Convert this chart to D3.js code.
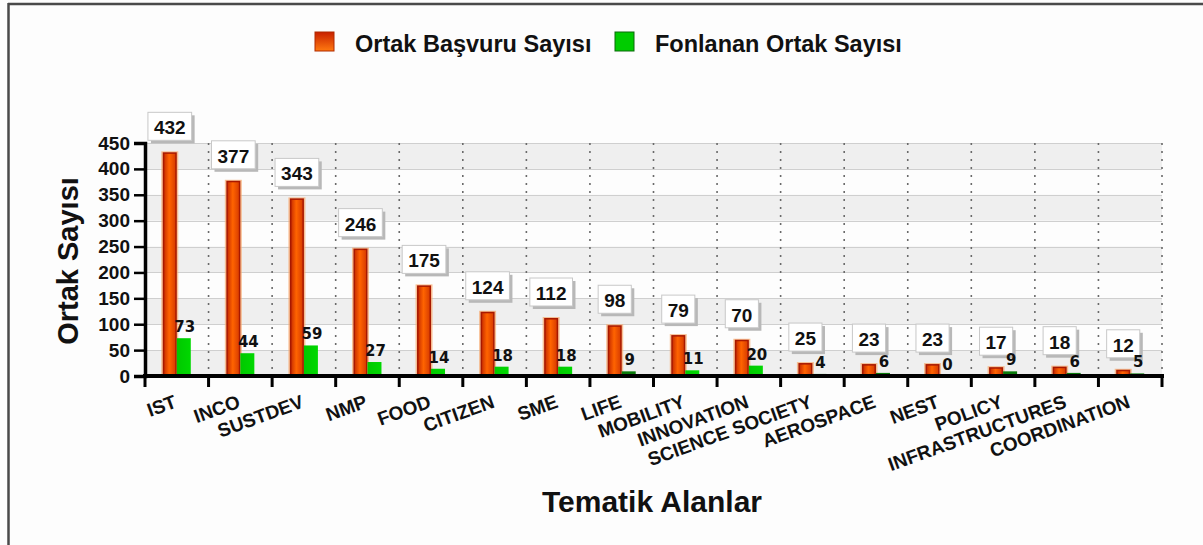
<!DOCTYPE html>
<html>
<head>
    <meta charset="utf-8">
    <title>Ortak Sayısı - Tematik Alanlar</title>
    <script src="https://d3js.org/d3.v7.min.js"></script>
    <style>
        body, html {
            margin: 0;
            padding: 0;
            background: #fdfdfd;
        }
        svg {
            display: block;
            font-family: "Liberation Sans", Arial, sans-serif;
        }
        .grid line {
            stroke: #cfcfcf;
            stroke-width: 1;
        }
        .vgrid line {
            stroke: #6a6a6a;
            stroke-width: 1.6;
            stroke-dasharray: 2 6;
        }
        .axis path, .axis line {
            stroke: #000;
        }
        .y-axis text {
            font-size: 19px;
            font-weight: bold;
            fill: #111;
        }
        .x-axis text {
            font-size: 19px;
            font-weight: bold;
            fill: #111;
        }
        .box-label {
            font-size: 19px;
            font-weight: bold;
            fill: #111;
        }
        .green-label {
            font-family: "DejaVu Sans", Verdana, sans-serif;
            font-size: 15px;
            font-weight: bold;
            fill: #111;
        }
        .legend text {
            font-size: 23.5px;
            font-weight: bold;
            fill: #111;
        }
        .title {
            font-weight: bold;
            fill: #111;
        }
    </style>
</head>
<body>
    <svg></svg>

    <script>
        // data
        const categories = ["IST", "INCO", "SUSTDEV", "NMP", "FOOD", "CITIZEN", "SME", "LIFE",
            "MOBILITY", "INNOVATION", "SCIENCE SOCIETY", "AEROSPACE", "NEST", "POLICY",
            "INFRASTRUCTURES", "COORDINATION"];
        const applicants = [432, 377, 343, 246, 175, 124, 112, 98, 79, 70, 25, 23, 23, 17, 18, 12];
        const funded = [73, 44, 59, 27, 14, 18, 18, 9, 11, 20, 4, 6, 0, 9, 6, 5];
        const yTicks = [0, 50, 100, 150, 200, 250, 300, 350, 400, 450];
        const seriesNames = ["Ortak Başvuru Sayısı", "Fonlanan Ortak Sayısı"];

        const width = 1203;
        const height = 545;
        const plotLeft = 145, plotRight = 1162, plotTop = 143, plotBottom = 376;

        const svg = d3.select("svg")
            .attr("width", width)
            .attr("height", height);

        const defs = svg.append("defs");

        // orange bar gradient (dark red edges, bright orange middle)
        const og = defs.append("linearGradient").attr("id", "orangeGrad")
            .attr("x1", "0%").attr("x2", "100%").attr("y1", "0%").attr("y2", "0%");
        og.append("stop").attr("offset", "0%").attr("stop-color", "#c62a00");
        og.append("stop").attr("offset", "45%").attr("stop-color", "#ff6400");
        og.append("stop").attr("offset", "100%").attr("stop-color", "#d63a00");

        const gg = defs.append("linearGradient").attr("id", "greenGrad")
            .attr("x1", "0%").attr("x2", "100%").attr("y1", "0%").attr("y2", "0%");
        gg.append("stop").attr("offset", "0%").attr("stop-color", "#00c800");
        gg.append("stop").attr("offset", "100%").attr("stop-color", "#00d800");

        // legend square gradient (top to bottom)
        const lg = defs.append("linearGradient").attr("id", "legendGrad")
            .attr("x1", "0%").attr("x2", "0%").attr("y1", "0%").attr("y2", "100%");
        lg.append("stop").attr("offset", "0%").attr("stop-color", "#c82000");
        lg.append("stop").attr("offset", "100%").attr("stop-color", "#ff7a10");

        // frame
        svg.append("line").attr("x1", 8).attr("x2", width).attr("y1", 4).attr("y2", 4)
            .attr("stroke", "#4a4a4a").attr("stroke-width", 2.5);
        svg.append("line").attr("x1", 8.5).attr("x2", 8.5).attr("y1", 3).attr("y2", height)
            .attr("stroke", "#4a4a4a").attr("stroke-width", 2.5);

        // scales
        const x = d3.scaleBand()
            .domain(categories)
            .range([plotLeft, plotRight])
            .padding(0);

        const sub = d3.scaleBand()
            .domain([0, 1])
            .range([x.bandwidth() / 2 - 14, x.bandwidth() / 2 + 14])
            .padding(0);

        const y = d3.scaleLinear()
            .domain([0, 450])
            .range([plotBottom, plotTop]);

        // alternating background bands
        const bands = yTicks.slice(0, -1).filter((d, i) => i % 2 === 0);
        svg.append("g")
            .selectAll("rect")
            .data(bands)
            .enter().append("rect")
            .attr("x", plotLeft)
            .attr("width", plotRight - plotLeft)
            .attr("y", d => y(d + 50))
            .attr("height", d => y(d) - y(d + 50))
            .attr("fill", "#efefef");

        // horizontal grid
        svg.append("g")
            .attr("class", "grid")
            .selectAll("line")
            .data(yTicks.slice(1))
            .enter().append("line")
            .attr("x1", plotLeft).attr("x2", plotRight)
            .attr("y1", d => Math.round(y(d)) + 0.5)
            .attr("y2", d => Math.round(y(d)) + 0.5);

        // vertical dotted lines on category boundaries
        const bounds = categories.slice(1).map(c => x(c)).concat([plotRight]);
        svg.append("g")
            .attr("class", "vgrid")
            .selectAll("line")
            .data(bounds)
            .enter().append("line")
            .attr("x1", d => d).attr("x2", d => d)
            .attr("y1", plotTop).attr("y2", plotBottom);

        // bars, one group per category
        const groups = svg.append("g")
            .selectAll("g")
            .data(categories)
            .enter().append("g")
            .attr("transform", d => `translate(${x(d)},0)`);

        // soft halo behind the orange bars
        groups.append("rect")
            .attr("x", sub(0) - 1.5)
            .attr("width", sub.bandwidth() + 3)
            .attr("y", (d, i) => y(applicants[i]) - 1)
            .attr("height", (d, i) => plotBottom - y(applicants[i]) + 1)
            .attr("fill", "#f6a66a")
            .attr("opacity", 0.7);

        groups.append("rect")
            .attr("x", sub(0) + 0.75)
            .attr("width", sub.bandwidth() - 1.5)
            .attr("y", (d, i) => y(applicants[i]) + 0.75)
            .attr("height", (d, i) => Math.max(0, plotBottom - y(applicants[i]) - 0.75))
            .attr("fill", "url(#orangeGrad)")
            .attr("stroke", "#a81800")
            .attr("stroke-width", 1.5);

        groups.append("rect")
            .attr("x", sub(1))
            .attr("width", sub.bandwidth())
            .attr("y", (d, i) => y(funded[i]))
            .attr("height", (d, i) => plotBottom - y(funded[i]))
            .attr("fill", (d, i) => funded[i] < 10 ? "#0a7a0a" : "url(#greenGrad)");

        // axes
        const yAxis = d3.axisLeft(y)
            .tickValues(yTicks)
            .tickSize(11)
            .tickPadding(4);

        const yg = svg.append("g")
            .attr("class", "axis y-axis")
            .attr("transform", `translate(${plotLeft},0)`)
            .call(yAxis);
        yg.select(".domain").attr("stroke-width", 3.5);
        yg.selectAll(".tick line").attr("stroke-width", 2.5);

        const xAxis = d3.axisBottom(x)
            .tickSize(0)
            .tickPadding(0);

        const xg = svg.append("g")
            .attr("class", "axis x-axis")
            .attr("transform", `translate(0,${plotBottom})`)
            .call(xAxis);
        xg.select(".domain").remove();
        xg.selectAll(".tick text")
            .attr("text-anchor", "end")
            .attr("dy", 0)
            .attr("y", 0)
            .attr("transform", "translate(1,31) rotate(-20)");

        // x axis line with boundary ticks
        svg.append("line")
            .attr("x1", plotLeft - 2).attr("x2", plotRight + 2)
            .attr("y1", plotBottom).attr("y2", plotBottom)
            .attr("stroke", "#000").attr("stroke-width", 4);
        svg.append("g")
            .selectAll("line")
            .data([plotLeft].concat(bounds))
            .enter().append("line")
            .attr("x1", d => d).attr("x2", d => d)
            .attr("y1", plotBottom).attr("y2", plotBottom + 11)
            .attr("stroke", "#000").attr("stroke-width", 3);

        // boxed labels for the orange series
        const boxes = groups.append("g")
            .attr("transform", (d, i) => `translate(${sub(0) + sub.bandwidth() / 2},${y(applicants[i]) - 9})`);

        boxes.each(function(d, i) {
            const g = d3.select(this);
            const t = g.append("text")
                .attr("class", "box-label")
                .attr("text-anchor", "middle")
                .attr("y", -9)
                .text(applicants[i]);
            const w = t.node().getComputedTextLength() + 12;
            g.insert("rect", "text")
                .attr("x", -w / 2 + 3).attr("y", -28)
                .attr("width", w).attr("height", 28)
                .attr("fill", "#b8b8b8");
            g.insert("rect", "text")
                .attr("x", -w / 2).attr("y", -31)
                .attr("width", w).attr("height", 28)
                .attr("fill", "#fff")
                .attr("stroke", "#c8c8c8");
        });

        // plain labels for the green series
        groups.append("text")
            .attr("class", "green-label")
            .attr("text-anchor", "middle")
            .attr("x", sub(1) + sub.bandwidth() / 2 + 1)
            .attr("y", (d, i) => y(funded[i]) - 6)
            .text((d, i) => funded[i]);

        // axis titles
        svg.append("text")
            .attr("class", "title")
            .attr("text-anchor", "middle")
            .attr("transform", "translate(78,261) rotate(-90)")
            .style("font-size", "29px")
            .text("Ortak Sayısı");

        svg.append("text")
            .attr("class", "title")
            .attr("text-anchor", "middle")
            .attr("x", 652).attr("y", 512)
            .style("font-size", "30px")
            .text("Tematik Alanlar");

        // legend
        const legend = svg.append("g").attr("class", "legend");
        const legendItems = [
            {name: seriesNames[0], fill: "url(#legendGrad)", stroke: "#b02a00", x: 315},
            {name: seriesNames[1], fill: "#00cc00", stroke: "#0a6a0a", x: 615}
        ];
        const li = legend.selectAll("g")
            .data(legendItems)
            .enter().append("g")
            .attr("transform", d => `translate(${d.x},32)`);
        li.append("rect")
            .attr("width", 19).attr("height", 19)
            .attr("fill", d => d.fill)
            .attr("stroke", d => d.stroke);
        li.append("text")
            .attr("x", 40).attr("y", 20)
            .text(d => d.name);
    </script>
</body>
</html>
